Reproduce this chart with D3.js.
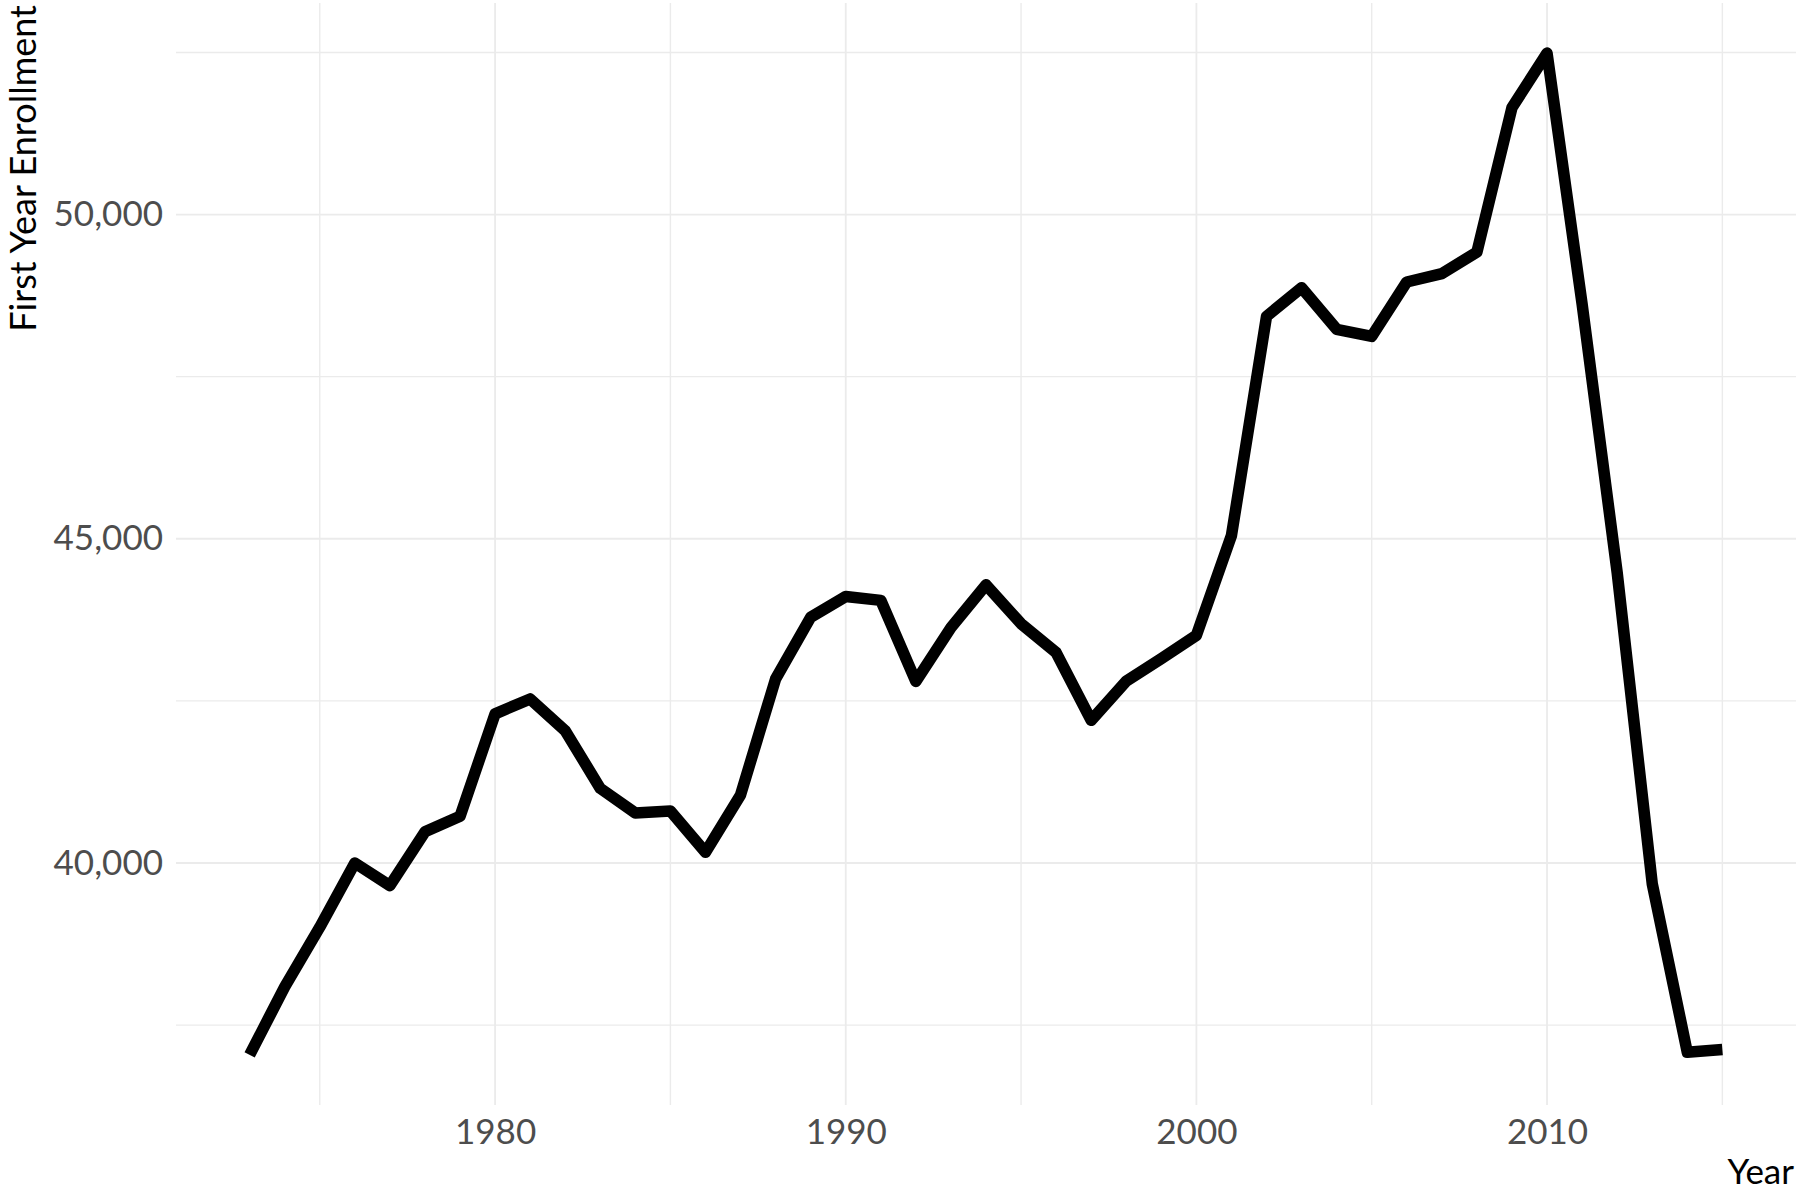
<!DOCTYPE html>
<html>
<head>
<meta charset="utf-8">
<script src="https://cdn.jsdelivr.net/npm/d3@7"></script>
<style>
  html, body { margin: 0; padding: 0; background: #fff; }
  svg { display: block; }
</style>
</head>
<body>
<svg id="chart" width="1800" height="1195"></svg>
<script>
const years = [1973,1974,1975,1976,1977,1978,1979,1980,1981,1982,1983,1984,1985,1986,1987,1988,1989,1990,1991,1992,1993,1994,1995,1996,1997,1998,1999,2000,2001,2002,2003,2004,2005,2006,2007,2008,2009,2010,2011,2012,2013,2014,2015];
const enrollment = [37040,38090,39010,40000,39650,40480,40720,42300,42530,42040,41150,40770,40800,40165,41050,42840,43790,44110,44050,42800,43630,44290,43690,43245,42200,42805,43150,43510,45050,48430,48870,48230,48120,48960,49090,49420,51650,52490,48620,44480,39680,37080,37125];
const xMajorTicks = [1980, 1990, 2000, 2010];
const xMinorTicks = [1975, 1985, 1995, 2005, 2015];
const yMajorTicks = [40000, 45000, 50000];
const yMinorTicks = [37500, 42500, 47500, 52500];
const xTitle = "Year";
const yTitle = "First Year Enrollment";

const FONT = "Lato, 'Open Sans', sans-serif";
const svg = d3.select("#chart");
const panel = { left: 176, right: 1796, top: 3, bottom: 1105 };

function expand(ext, f) { const d = ext[1] - ext[0]; return [ext[0] - d * f, ext[1] + d * f]; }

const x = d3.scaleLinear().domain(expand(d3.extent(years), 0.05)).range([panel.left, panel.right]);
const y = d3.scaleLinear().domain(expand(d3.extent(enrollment), 0.05)).range([panel.bottom, panel.top]);

const grid = svg.append("g");
grid.selectAll(".ymin").data(yMinorTicks).join("line")
  .attr("x1", panel.left).attr("x2", panel.right)
  .attr("y1", d => y(d)).attr("y2", d => y(d))
  .attr("stroke", "#EBEBEB").attr("stroke-width", 1.4);
grid.selectAll(".xmin").data(xMinorTicks).join("line")
  .attr("y1", panel.top).attr("y2", panel.bottom)
  .attr("x1", d => x(d)).attr("x2", d => x(d))
  .attr("stroke", "#EBEBEB").attr("stroke-width", 1.4);
grid.selectAll(".ymaj").data(yMajorTicks).join("line")
  .attr("x1", panel.left).attr("x2", panel.right)
  .attr("y1", d => y(d)).attr("y2", d => y(d))
  .attr("stroke", "#EBEBEB").attr("stroke-width", 1.8);
grid.selectAll(".xmaj").data(xMajorTicks).join("line")
  .attr("y1", panel.top).attr("y2", panel.bottom)
  .attr("x1", d => x(d)).attr("x2", d => x(d))
  .attr("stroke", "#EBEBEB").attr("stroke-width", 1.8);

const fmt = d3.format(",");
const yAxis = d3.axisLeft(y).tickValues(yMajorTicks).tickFormat(fmt).tickSize(0).tickPadding(13);
const yg = svg.append("g").attr("transform", `translate(${panel.left},0)`).call(yAxis);
yg.select(".domain").remove();
yg.selectAll("text").attr("font-family", FONT).attr("font-size", 35).attr("fill", "#4D4D4D");

const xAxis = d3.axisBottom(x).tickValues(xMajorTicks).tickFormat(d3.format("d")).tickSize(0).tickPadding(14);
const xg = svg.append("g").attr("transform", `translate(0,${panel.bottom})`).call(xAxis);
xg.select(".domain").remove();
xg.selectAll("text").attr("font-family", FONT).attr("font-size", 35).attr("fill", "#4D4D4D");

const line = d3.line().x((d, i) => x(years[i])).y(d => y(d));
svg.append("path").datum(enrollment)
  .attr("d", line)
  .attr("fill", "none").attr("stroke", "#000")
  .attr("stroke-width", 11.5)
  .attr("stroke-linejoin", "round")
  .attr("stroke-linecap", "butt");

svg.append("text").text(xTitle)
  .attr("x", panel.right - 2).attr("y", 1184)
  .attr("text-anchor", "end")
  .attr("font-family", FONT).attr("font-size", 35).attr("fill", "#000");

svg.append("text").text(yTitle)
  .attr("transform", `translate(36,5) rotate(-90)`)
  .attr("text-anchor", "end")
  .attr("font-family", FONT).attr("font-size", 36).attr("fill", "#000");
</script>
</body>
</html>
